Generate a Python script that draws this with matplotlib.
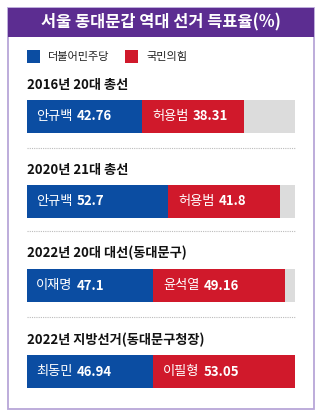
import matplotlib.pyplot as plt
from matplotlib.patches import Rectangle
from matplotlib.lines import Line2D

plt.rcParams['font.family'] = ['Noto Sans CJK KR', 'DejaVu Sans']

title = "서울 동대문갑 역대 선거 득표율(%)"
parties = ["더불어민주당", "국민의힘"]
elections = ["2016년 20대 총선", "2020년 21대 총선", "2022년 20대 대선(동대문구)", "2022년 지방선거(동대문구청장)"]
blue_names = ["안규백", "안규백", "이재명", "최동민"]
blue_vals = [42.76, 52.7, 47.1, 46.94]
red_names = ["허용범", "허용범", "윤석열", "이필형"]
red_vals = [38.31, 41.8, 49.16, 53.05]
red_labels = ["38.31", "41.8", "49.16", "53.05"]
blue_labels = ["42.76", "52.7", "47.1", "46.94"]

BLUE = "#0b4da2"
RED = "#d0192b"
GRAY = "#dcdcdc"
PURPLE = "#5c2d91"

W, H = 322, 418
fig = plt.figure(figsize=(W / 100, H / 100), dpi=100)
fig.patch.set_facecolor("white")


def box(x, y, w, h):
    # pixel box (top-left origin) -> figure fraction rect
    return [x / W, 1 - (y + h) / H, w / W, h / H]


# frame and title band
fig.patches.append(Rectangle((8 / W, 1 - 409 / H), 306 / W, 401 / H, transform=fig.transFigure,
                             facecolor="none", edgecolor="#b7a6d8", linewidth=1.3, zorder=-1))
fig.patches.append(Rectangle((8 / W, 1 - 37 / H), 306 / W, 29 / H, transform=fig.transFigure,
                             facecolor=PURPLE, edgecolor="none"))
fig.text(161 / W, 1 - 22.5 / H, title, color="white", fontsize=11.8, fontweight="bold",
         ha="center", va="center")

# legend
for i, (p, c) in enumerate(zip(parties, [BLUE, RED])):
    x0 = 27 + i * 98
    fig.patches.append(Rectangle((x0 / W, 1 - 63 / H), 13 / W, 13 / H, transform=fig.transFigure,
                                 facecolor=c, edgecolor="none"))
    fig.text((x0 + 21) / W, 1 - 57 / H, p, fontsize=8, ha="left", va="center", color="#222222")

title_y = [85, 170, 253, 340]
bar_y = [100, 185, 269, 355]
sep_y = [148, 231, 317]

for s in sep_y:
    fig.lines.append(Line2D([27 / W, 295 / W], [1 - s / H, 1 - s / H], transform=fig.transFigure,
                            color="#bbbbbb", linewidth=0.8, linestyle=(0, (1, 1))))

for i in range(4):
    fig.text(27 / W, 1 - title_y[i] / H, elections[i], fontsize=9.5, fontweight="bold",
             ha="left", va="center", color="#111111")
    ax = fig.add_axes(box(27, bar_y[i], 268, 33))
    ax.barh(0, 100, color=GRAY, height=1)
    ax.barh(0, blue_vals[i], color=BLUE, height=1)
    ax.barh(0, red_vals[i], left=blue_vals[i], color=RED, height=1)
    ax.set_xlim(0, 100)
    ax.set_ylim(-0.5, 0.5)
    ax.axis("off")
    t = ax.annotate(blue_names[i], xy=(0, 0), xytext=(6.5, 0), textcoords="offset points",
                    color="white", fontsize=9.5, va="center", ha="left")
    ax.annotate(blue_labels[i], xy=(1, 0.5), xycoords=t, xytext=(3, 0), textcoords="offset points",
                color="white", fontsize=9.5, fontweight="bold", va="center", ha="left")
    t = ax.annotate(red_names[i], xy=(blue_vals[i], 0), xytext=(7.5, 0), textcoords="offset points",
                    color="white", fontsize=9.5, va="center", ha="left")
    ax.annotate(red_labels[i], xy=(1, 0.5), xycoords=t, xytext=(3, 0), textcoords="offset points",
                color="white", fontsize=9.5, fontweight="bold", va="center", ha="left")

fig.savefig("out.png", dpi=100)
